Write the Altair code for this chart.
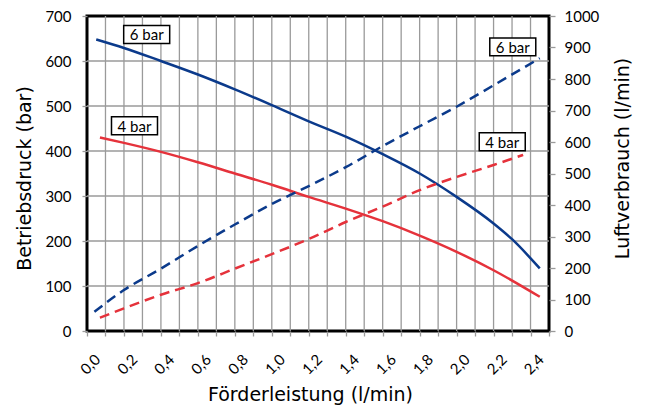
import altair as alt
import pandas as pd

# ---------------- data ----------------
series_names = ["6 bar", "4 bar"]

# Betriebsdruck (left axis, solid lines)
x_druck_6 = [0.05, 0.2, 0.4, 0.6, 0.8, 1.0, 1.2, 1.4, 1.6, 1.8, 2.0, 2.2, 2.3, 2.45]
druck_6 = [648, 629, 600, 570, 537, 502, 466, 432, 393, 350, 298, 239, 204, 139]
x_druck_4 = [0.07, 0.2, 0.4, 0.6, 0.8, 1.0, 1.2, 1.4, 1.6, 1.8, 2.0, 2.2, 2.45]
druck_4 = [430, 418, 398, 375, 350, 325, 298, 272, 244, 212, 176, 135, 76]

# Luftverbrauch (right axis, dashed lines)
x_luft_6 = [0.04, 0.2, 0.4, 0.6, 0.8, 1.0, 1.2, 1.4, 1.6, 1.8, 2.0, 2.2, 2.45]
luft_6 = [61, 130, 198, 270, 338, 403, 460, 520, 587, 650, 712, 780, 866]
x_luft_4 = [0.07, 0.2, 0.4, 0.6, 0.8, 1.0, 1.2, 1.4, 1.6, 1.8, 2.0, 2.2, 2.36]
luft_4 = [42, 72, 115, 152, 198, 244, 292, 346, 395, 447, 489, 527, 559]

# label boxes (data coordinates)
label_left_text = ["6 bar", "4 bar"]
label_left_x = [0.323, 0.257]
label_left_y = [659, 456]
label_right_text = ["6 bar", "4 bar"]
label_right_x = [2.304, 2.247]
label_right_y = [902, 601]

# axes
x_tick_values = [0.0, 0.1, 0.2, 0.3, 0.4, 0.5, 0.6, 0.7, 0.8, 0.9, 1.0, 1.1, 1.2,
                 1.3, 1.4, 1.5, 1.6, 1.7, 1.8, 1.9, 2.0, 2.1, 2.2, 2.3, 2.4, 2.5]
x_grid_values = x_tick_values[1:-1]
x_label_tenths = [0, 2, 4, 6, 8, 10, 12, 14, 16, 18, 20, 22, 24]
x_tick_labels = ["0,0", "0,2", "0,4", "0,6", "0,8", "1,0", "1,2", "1,4", "1,6",
                 "1,8", "2,0", "2,2", "2,4"]
y_left_values = [0, 100, 200, 300, 400, 500, 600, 700]
y_grid_values = y_left_values[1:-1]
y_right_values = [0, 100, 200, 300, 400, 500, 600, 700, 800, 900, 1000]

# ---------------- tables ----------------
df_druck = pd.concat([
    pd.DataFrame({"x": x_druck_6, "y": druck_6, "serie": series_names[0]}),
    pd.DataFrame({"x": x_druck_4, "y": druck_4, "serie": series_names[1]}),
])
df_luft = pd.concat([
    pd.DataFrame({"x": x_luft_6, "y": luft_6, "serie": series_names[0]}),
    pd.DataFrame({"x": x_luft_4, "y": luft_4, "serie": series_names[1]}),
])
df_lab_l = pd.DataFrame({"x": label_left_x, "y": label_left_y, "label": label_left_text})
df_lab_r = pd.DataFrame({"x": label_right_x, "y": label_right_y, "label": label_right_text})
df_gx = pd.DataFrame({"x": x_grid_values})
df_gy = pd.DataFrame({"y": y_grid_values})

FONT = "Lato"
TFONT = "DejaVu Sans"
BLUE = "#0b3a8b"
RED = "#e5323b"
GRID = "#9a9a9a"

tenths = "[" + ",".join(str(v) for v in x_label_tenths) + "]"
labs = "[" + ",".join("'" + s + "'" for s in x_tick_labels) + "]"
label_expr = (f"indexof({tenths}, round(datum.value*10)) >= 0 ? "
              f"{labs}[indexof({tenths}, round(datum.value*10))] : ''")

x_enc = alt.X(
    "x:Q",
    scale=alt.Scale(domain=[0, 2.5], nice=False, zero=False),
    axis=alt.Axis(
        values=x_tick_values, labelExpr=label_expr, labelAngle=315,
        labelAlign="center", labelBaseline="middle", labelPadding=28, labelOffset=3,
        labelFontSize=15, labelOverlap=False, labelFlush=False,
        tickColor=GRID, tickSize=5, tickWidth=1.3,
        grid=False, domain=False,
        title="Förderleistung (l/min)", titleFontSize=19, titleFont=TFONT, titleFontWeight="normal",
        titleX=223, titleY=63, titleAlign="center", titleBaseline="middle",
    ),
)

y_left = alt.Y(
    "y:Q",
    scale=alt.Scale(domain=[0, 700], nice=False),
    axis=alt.Axis(
        values=y_left_values, labelFontSize=15, labelPadding=11,
        tickColor=GRID, tickSize=5, tickWidth=1.3,
        grid=False, domain=False,
        title="Betriebsdruck (bar)", titleFontSize=19, titleFont=TFONT, titleFontWeight="normal",
        titleAngle=270, titleX=-63, titleY=162, titleAlign="center", titleBaseline="middle",
    ),
)

y_right = alt.Y(
    "y:Q",
    scale=alt.Scale(domain=[0, 1000], nice=False),
    axis=alt.Axis(
        orient="right", values=y_right_values, format="d", labelFontSize=15, labelPadding=9,
        tickColor=GRID, tickSize=6, tickWidth=1.3, grid=False, domain=False,
        title="Luftverbrauch (l/min)", titleFontSize=19, titleFont=TFONT, titleFontWeight="normal",
        titleAngle=270, titleX=73, titleY=142, titleAlign="center", titleBaseline="middle",
    ),
)

color_enc = alt.Color("serie:N", scale=alt.Scale(domain=series_names, range=[BLUE, RED]), legend=None)

BOX = "M-1,-0.39H1V0.39H-1Z"

grid_x = alt.Chart(df_gx).mark_rule(color=GRID, strokeWidth=1.3).encode(x=x_enc)
grid_y = alt.Chart(df_gy).mark_rule(color=GRID, strokeWidth=1.3).encode(y=y_left)

solid = alt.Chart(df_druck).mark_line(strokeWidth=2.5, interpolate="monotone").encode(
    x=x_enc, y=y_left, color=color_enc)
box_l = alt.Chart(df_lab_l).mark_point(shape=BOX, size=2116, filled=True, fill="white",
                                       stroke="black", strokeWidth=1.5, opacity=1).encode(x=x_enc, y=y_left)
text_l = alt.Chart(df_lab_l).mark_text(fontSize=15, font=FONT, color="black", dy=1).encode(
    x=x_enc, y=y_left, text="label:N")

dashed = alt.Chart(df_luft).mark_line(strokeWidth=2.5, strokeDash=[10, 6], interpolate="monotone").encode(
    x=x_enc, y=y_right, color=color_enc)
box_r = alt.Chart(df_lab_r).mark_point(shape=BOX, size=2116, filled=True, fill="white",
                                       stroke="black", strokeWidth=1.5, opacity=1).encode(x=x_enc, y=y_right)
text_r = alt.Chart(df_lab_r).mark_text(fontSize=15, font=FONT, color="black", dy=1).encode(
    x=x_enc, y=y_right, text="label:N")

left_layer = alt.layer(grid_x, grid_y, solid, box_l, text_l)
right_layer = alt.layer(dashed, box_r, text_r)

chart = alt.layer(left_layer, right_layer).resolve_scale(y="independent").properties(
    width=462, height=315,
    autosize=alt.AutoSizeParams(type="none"),
    padding={"left": 79, "top": 8, "right": 89, "bottom": 75},
    background="white",
).configure_view(
    stroke="black", strokeWidth=3
).configure_axis(
    labelFont=FONT, labelColor="black", titleColor="black"
)

chart.save("out.html", embed_options={"renderer": "svg", "actions": False})
